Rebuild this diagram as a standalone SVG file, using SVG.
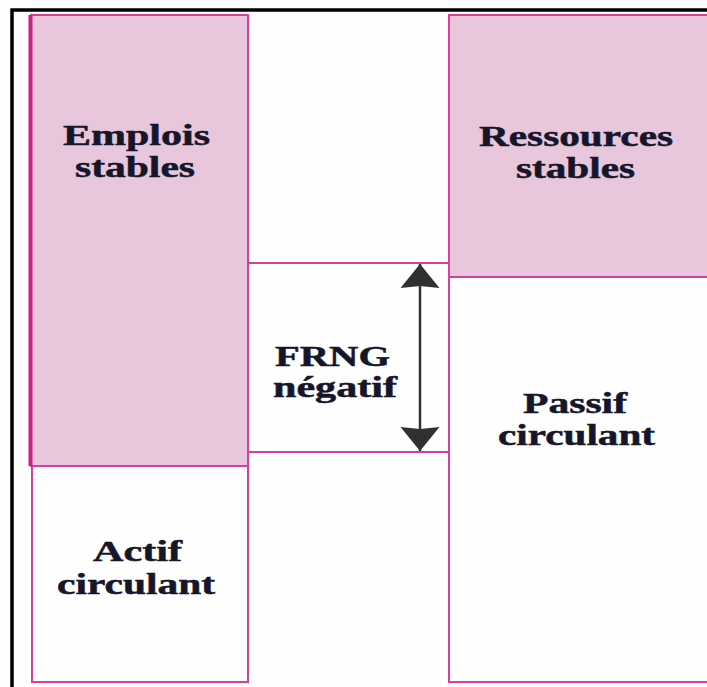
<svg xmlns="http://www.w3.org/2000/svg" width="707" height="687" viewBox="0 0 707 687">
  <style>
    .box { stroke: #d83f9c; stroke-width: 2; }
    .stable { fill: #e8c6dc; }
    .plain { fill: #fefefe; }
    .lbl { font-family: "Liberation Serif", "Times New Roman", serif; font-weight: bold; font-size: 29px; fill: #16162a; stroke: #16162a; stroke-width: 0.5; }
    .frame { stroke: #000; stroke-width: 3.5; fill: none; }
  </style>
  <defs>
    <marker id="head" markerUnits="userSpaceOnUse" markerWidth="26" markerHeight="42" viewBox="0 -21 26 42" refX="24" refY="0" orient="auto-start-reverse">
      <path d="M24,0 L0,-19.5 L2,0 L0,19.5 Z" fill="#303030"/>
    </marker>
  </defs>

  <rect width="707" height="687" fill="#fefefe"/>

  <!-- page frame (top and left rules) -->
  <path class="frame" d="M12,687 V10 H707"/>

  <g id="actif-circulant">
    <rect class="box plain" x="32" y="466" width="216" height="216"/>
    <text class="lbl" x="93" y="561" textLength="89" lengthAdjust="spacingAndGlyphs">Actif</text>
    <text class="lbl" x="57" y="594" textLength="158" lengthAdjust="spacingAndGlyphs">circulant</text>
  </g>

  <g id="frng-negatif">
    <rect class="box plain" x="248" y="263" width="201" height="189"/>
    <text class="lbl" x="275" y="366" textLength="115" lengthAdjust="spacingAndGlyphs">FRNG</text>
    <text class="lbl" x="273" y="397" textLength="124" lengthAdjust="spacingAndGlyphs">négatif</text>
  </g>

  <g id="emplois-stables">
    <rect class="box stable" x="31" y="15" width="217" height="451"/>
    <rect x="28.5" y="15" width="4" height="451" fill="#c9208a"/>
    <text class="lbl" x="63" y="145" textLength="147" lengthAdjust="spacingAndGlyphs">Emplois</text>
    <text class="lbl" x="75" y="177" textLength="120" lengthAdjust="spacingAndGlyphs">stables</text>
  </g>

  <g id="passif-circulant">
    <rect class="box plain" x="449" y="277" width="270" height="405"/>
    <text class="lbl" x="523" y="413" textLength="104" lengthAdjust="spacingAndGlyphs">Passif</text>
    <text class="lbl" x="498" y="445" textLength="157" lengthAdjust="spacingAndGlyphs">circulant</text>
  </g>

  <g id="ressources-stables">
    <rect class="box stable" x="449" y="15" width="270" height="262"/>
    <text class="lbl" x="479" y="146" textLength="194" lengthAdjust="spacingAndGlyphs">Ressources</text>
    <text class="lbl" x="516" y="178" textLength="119" lengthAdjust="spacingAndGlyphs">stables</text>
  </g>

  <g id="connectors">
    <line x1="420" y1="264" x2="420" y2="451" stroke="#303030" stroke-width="2.5" marker-start="url(#head)" marker-end="url(#head)"/>
  </g>
</svg>
